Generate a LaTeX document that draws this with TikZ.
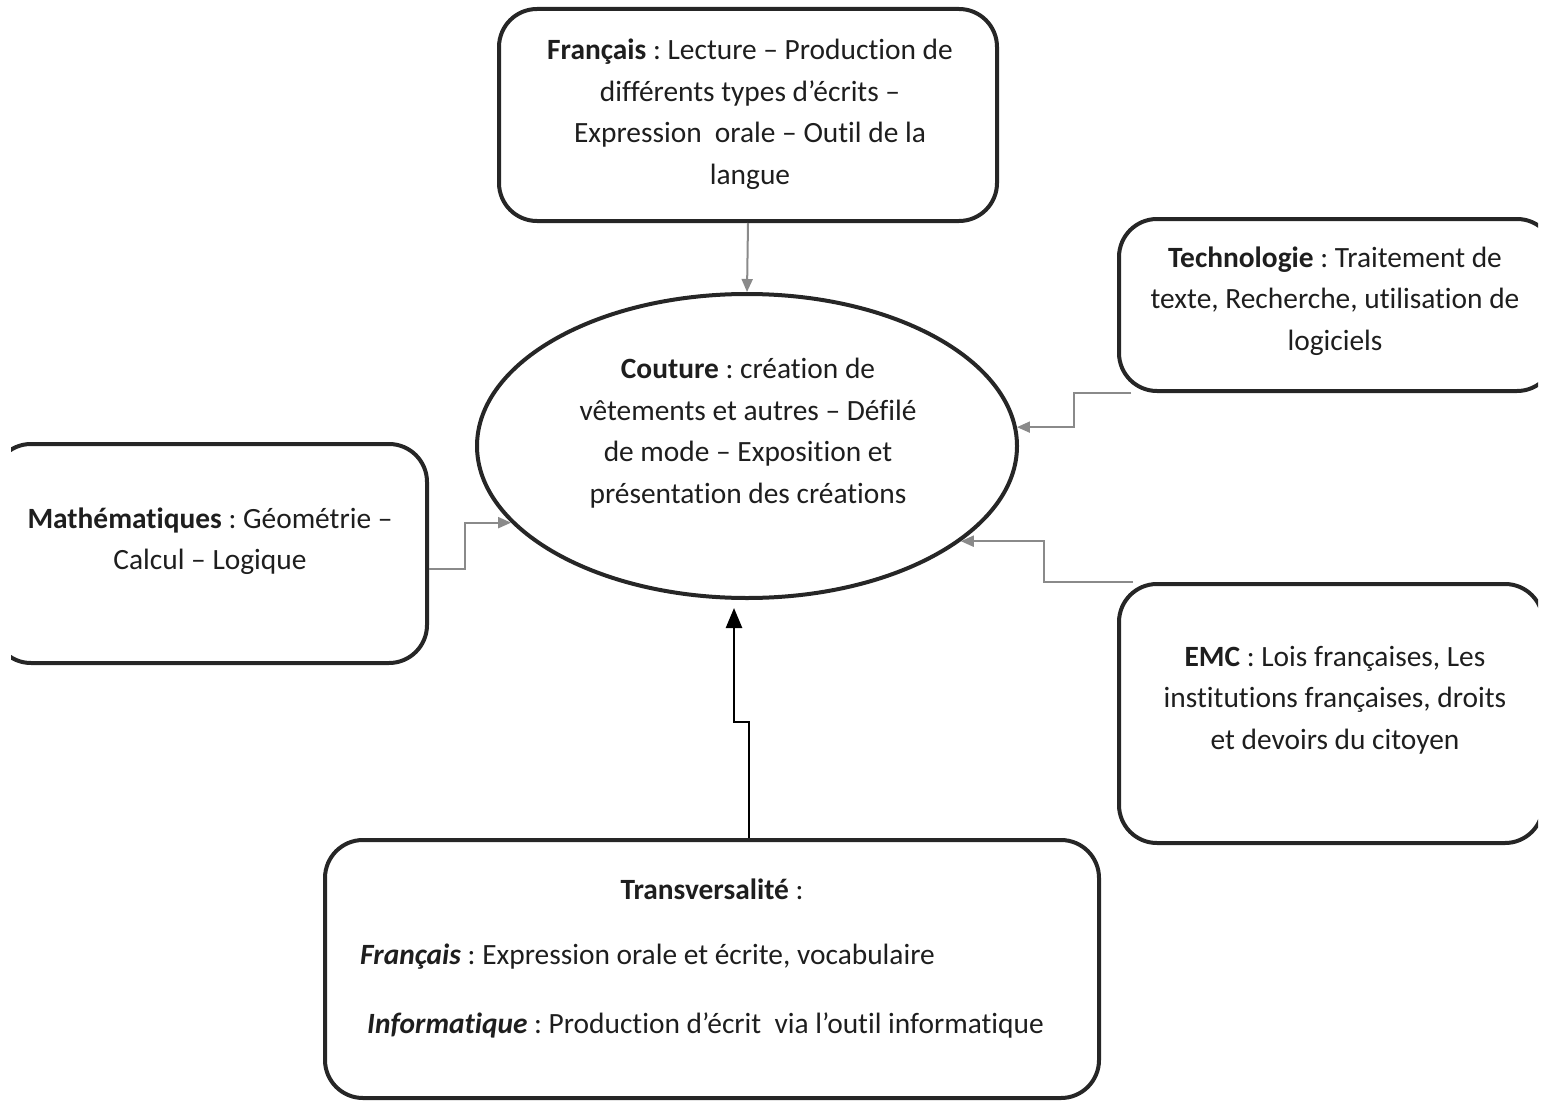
\documentclass[tikz,border=0pt]{standalone}
\usepackage{fontspec}
\setmainfont{Carlito}[Ligatures=NoCommon]
\frenchspacing
\usetikzlibrary{arrows.meta,shapes.geometric}
\definecolor{edge}{HTML}{262626}
\definecolor{conn}{HTML}{8A8A8A}
\definecolor{ink}{HTML}{1E1E1E}
\begin{document}
\begin{tikzpicture}[x=1pt,y=-1pt,
  box/.style={draw=edge,line width=4pt,rounded corners=38pt,inner sep=0pt},
  oval/.style={draw=edge,line width=4pt,ellipse,inner sep=0pt},
  txt/.style={align=center,font=\fontsize{29.4}{41.5}\selectfont\frenchspacing,text=ink,inner sep=0pt},
  ltxt/.style={anchor=west,font=\fontsize{29.4}{41.5}\selectfont\frenchspacing,text=ink,inner sep=0pt},
  garrow/.style={draw=conn,line width=2pt,-{Triangle[length=13pt,width=11pt]}},
  barrow/.style={draw=black,line width=2.5pt,-{Triangle[length=20pt,width=16pt]}}]
\useasboundingbox (0,0) rectangle (1541,1102);
\clip (11,0) rectangle (1538,1102);
% shapes
\node[box,minimum width=498pt,minimum height=212pt] (fr) at (748,115) {};
\node[box,minimum width=436pt,minimum height=172pt] (tech) at (1337,305) {};
\node[box,minimum width=424pt,minimum height=259pt] (emc) at (1331,713.5) {};
\node[box,minimum width=434pt,minimum height=219pt] (math) at (210,553.5) {};
\node[box,minimum width=774pt,minimum height=258pt] (trans) at (712,969) {};
\node[oval,minimum width=540pt,minimum height=304pt] (couture) at (747,446) {};
% texts
\node[txt] (frT) at (750,114) {\textbf{Français} : Lecture – Production de\\différents types d’écrits –\\Expression\ \ orale – Outil de la\\langue};
\node[txt] (techT) at (1335,301) {\textbf{Technologie} : Traitement de\\texte, Recherche, utilisation de\\logiciels};
\node[txt] (coutT) at (748,433) {\textbf{Couture} : création de\\vêtements et autres – Défilé\\de mode – Exposition et\\présentation des créations};
\node[txt] (mathT) at (210,541) {\textbf{Mathématiques} : Géométrie –\\Calcul – Logique};
\node[txt] (emcT) at (1335,700) {\textbf{EMC} : Lois françaises, Les\\institutions françaises, droits\\et devoirs du citoyen};
\node[txt] (transT) at (712,889) {\textbf{Transversalité} :};
\node[ltxt] (transF) at (360,957) {\textbf{\itshape Français} : Expression orale et écrite, vocabulaire};
\node[ltxt] (transI) at (367,1025) {\textbf{\itshape Informatique} : Production d’écrit\ \ via l’outil informatique};
% connectors
\coordinate (tip) at (734,608);
\draw[garrow] (fr.south) -- (couture.north);
\draw[garrow] ([xshift=14pt]tech.south west) -- ++(-57,0) |- (couture.4);
\draw[garrow] ([xshift=16pt]emc.north west) -- ++(-89,0) |- (couture.-24);
\draw[garrow] ([yshift=-15.5pt]math.east) -- ++(36,0) |- (couture.198);
\draw[barrow] ([xshift=37pt]trans.north) -- ++(0,-116) -| (tip);
\end{tikzpicture}
\end{document}
